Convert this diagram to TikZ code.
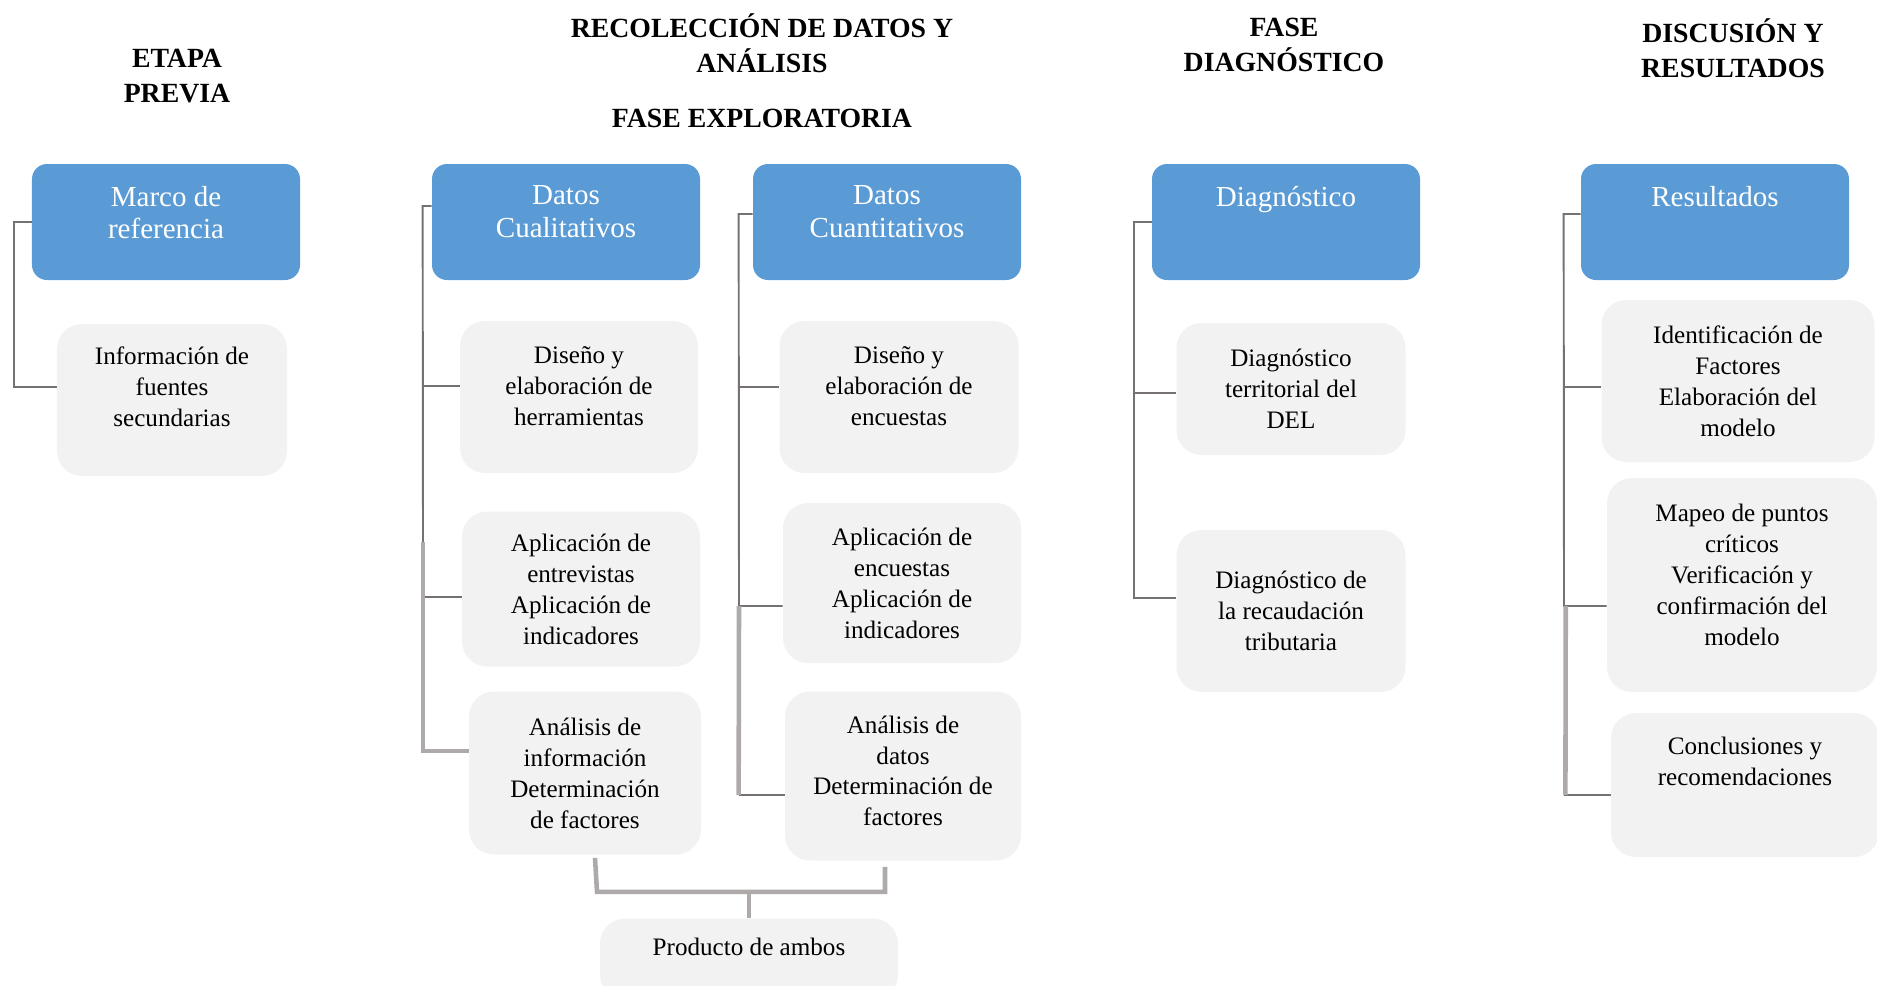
\documentclass[tikz,border=0pt]{standalone}
\usepackage{fontspec}
\setmainfont{Liberation Serif}
\usepackage{xcolor}
\definecolor{cajaazul}{RGB}{91,155,213}
\definecolor{cajagris}{RGB}{242,242,242}
\definecolor{lineaosc}{RGB}{118,113,113}
\definecolor{lineaclara}{RGB}{174,170,170}

\begin{document}
\begin{tikzpicture}[x=0.2mm, y=-0.2mm,
    fase/.style={font=\fontsize{15.8}{19.7}\selectfont\bfseries, align=center, inner sep=0},
    azul/.style={fill=cajaazul, rounded corners=0.3cm, minimum width=5.36cm, minimum height=2.32cm, inner sep=0},
    azultxt/.style={text=white, align=center, inner sep=0, anchor=north, font=\fontsize{16.5}{18.5}\selectfont},
    gris/.style={fill=cajagris, rounded corners=0.5cm, align=center, inner sep=0, font=\fontsize{14.3}{17.6}\selectfont},
    rama/.style={draw=lineaosc, line width=1.1pt},
    ramagruesa/.style={draw=lineaclara, line width=2.6pt}]
    \useasboundingbox (0,0) rectangle (1877,985);

    % Encabezados
    \node[fase] (etapa) at (177,76) {ETAPA\\PREVIA};
    \node[fase] (recol) at (762,43) {RECOLECCIÓN DE DATOS Y\\ANÁLISIS};
    \node[fase] (explor) at (762,118) {FASE EXPLORATORIA};
    \node[fase] (fdiag) at (1284,45) {FASE\\DIAGNÓSTICO};
    \node[fase] (discu) at (1733,48) {DISCUSIÓN Y\\RESULTADOS};

    % Cajas azules
    \node[azul] (marco) at (166,222) {};
    \node[azul] (dcual) at (566,222) {};
    \node[azul] (dcuan) at (887,222) {};
    \node[azul] (diag) at (1286,222) {};
    \node[azul] (res) at (1715,222) {};
    \node[azultxt] (marcot) at ([yshift=-12.5pt]marco.north) {Marco de\\referencia};
    \node[azultxt] (dcualt) at ([yshift=-12.5pt]dcual.north) {Datos\\Cualitativos};
    \node[azultxt] (dcuant) at ([yshift=-12.5pt]dcuan.north) {Datos\\Cuantitativos};
    \node[azultxt] (diagt) at ([yshift=-12.5pt]diag.north) {Diagnóstico};
    \node[azultxt] (rest) at ([yshift=-12.5pt]res.north) {Resultados};

    % Etapa previa
    \node[gris, minimum width=4.6cm, minimum height=3.04cm, text depth=14.8pt] (info) at (172,400) {Información de\\fuentes\\secundarias};

    % Cualitativos
    \node[gris, minimum width=4.76cm, minimum height=3.04cm, text depth=12.5pt] (cual1) at (579,397) {Diseño y\\elaboración de\\herramientas};
    \node[gris, minimum width=4.76cm, minimum height=3.1cm] (cual2) at (581,589) {Aplicación de\\entrevistas\\Aplicación de\\indicadores};
    \node[gris, minimum width=4.64cm, minimum height=3.26cm] (cual3) at (585,773) {Análisis de\\información\\Determinación\\de factores};

    % Cuantitativos
    \node[gris, minimum width=4.78cm, minimum height=3.04cm, text depth=12.5pt] (cuan1) at (899,397) {Diseño y\\elaboración de\\encuestas};
    \node[gris, minimum width=4.76cm, minimum height=3.2cm] (cuan2) at (902,583) {Aplicación de\\encuestas\\Aplicación de\\indicadores};
    \node[gris, minimum width=4.72cm, minimum height=3.38cm, text depth=6pt] (cuan3) at (903,776) {Análisis de\\datos\\Determinación de\\factores};

    \node[gris, minimum width=5.96cm, minimum height=1.62cm, text depth=14.4pt] (prod) at (749,959) {Producto de ambos};

    % Diagnostico
    \node[gris, minimum width=4.58cm, minimum height=2.64cm] (diag1) at (1291,389) {Diagnóstico\\territorial del\\DEL};
    \node[gris, minimum width=4.58cm, minimum height=3.24cm] (diag2) at (1291,611) {Diagnóstico de\\la recaudación\\tributaria};

    % Resultados
    \node[gris, minimum width=5.46cm, minimum height=3.24cm] (res1) at (1738,381) {Identificación de\\Factores\\Elaboración del\\modelo};
    \node[gris, minimum width=5.4cm, minimum height=4.28cm, text depth=11.4pt] (res2) at (1742,585) {Mapeo de puntos\\críticos\\Verificación y\\confirmación del\\modelo};
    \node[gris, minimum width=5.36cm, minimum height=2.88cm, text depth=27.3pt] (res3) at (1745,785) {Conclusiones y\\recomendaciones};

    % Ramas
    \draw[rama] (marco.west) -- ++(-18,0) |- ([shift={(0,-13)}]info.west);

    \coordinate (cqcodo) at (423,542);
    \draw[rama] ([shift={(0,-16)}]dcual.west) -- ++(-9,0) -- (cqcodo);
    \draw[rama] ([shift={(0,-11)}]cual1.west) -- ++(-37,0);
    \draw[rama] ([shift={(0,8)}]cual2.west) -- ++(-39,0);
    \draw[ramagruesa] (cqcodo) |- ([shift={(0,-22)}]cual3.west);

    \coordinate (cncodo) at (739,606);
    \draw[rama] ([shift={(0,-8)}]dcuan.west) -- ++(-14,0) -- (cncodo) -- ([shift={(0,23)}]cuan2.west);
    \draw[rama] ([shift={(0,-10)}]cuan1.west) -- ++(-41,0);
    \draw[rama] ([shift={(0,19)}]cuan3.west) -- ++(-46,0) coordinate (cnfin);
    \draw[ramagruesa] (cncodo) -- (cnfin);

    \draw[rama] (diag.west) -- ++(-18,0) |- ([shift={(0,-13)}]diag2.west);
    \draw[rama] ([shift={(0,4)}]diag1.west) -- ++(-43,0);

    \coordinate (rscodo) at (1564,606);
    \draw[rama] ([shift={(0,-8)}]res.west) -- ++(-17,0) -- (rscodo) -- ([shift={(0,21)}]res2.west);
    \draw[rama] ([shift={(0,6)}]res1.west) -- ++(-38,0);
    \draw[rama] ([shift={(0,10)}]res3.west) -- ++(-47,0) coordinate (rsfin);
    \draw[ramagruesa] ([xshift=1pt]rscodo) -- ([xshift=1pt]rsfin);

    % Producto de ambos
    \coordinate (union) at (749,892);
    \draw[ramagruesa] ([shift={(10,3)}]cual3.south) -- ([shift={(12,37)}]cual3.south) -- ([shift={(-18,31)}]cuan3.south) -- ([shift={(-18,6)}]cuan3.south);
    \draw[ramagruesa] (prod.north) -- (union);
\end{tikzpicture}
\end{document}
